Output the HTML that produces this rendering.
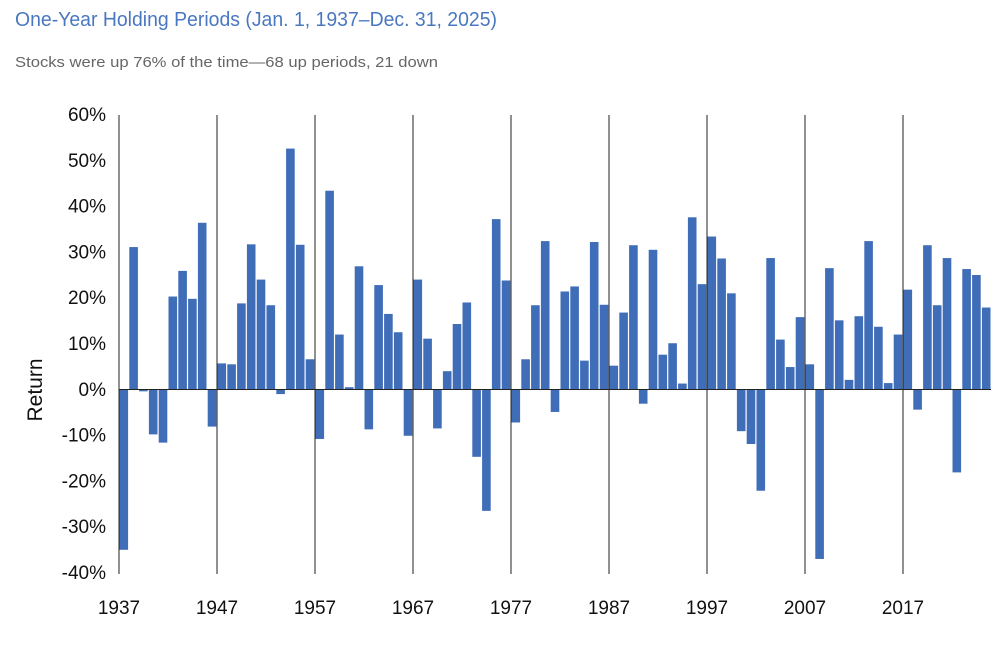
<!DOCTYPE html>
<html><head><meta charset="utf-8"><style>
body{margin:0;background:#fff;font-family:"Liberation Sans",sans-serif;}
</style></head><body>
<svg width="995" height="650" xmlns="http://www.w3.org/2000/svg" font-family="Liberation Sans, sans-serif">
<text x="15" y="26" font-size="20" fill="#4a78c0" textLength="482" lengthAdjust="spacingAndGlyphs">One-Year Holding Periods (Jan. 1, 1937–Dec. 31, 2025)</text>
<text x="15" y="67" font-size="15" fill="#666" textLength="423" lengthAdjust="spacingAndGlyphs">Stocks were up 76% of the time—68 up periods, 21 down</text>
<g font-size="19" fill="#111" text-anchor="end" id="yl"></g>
<text transform="translate(42,390) rotate(-90)" font-size="21" fill="#111" text-anchor="middle">Return</text>
<g id="bars" fill="#3f6db8"></g>
<line x1="119" y1="389.5" x2="991" y2="389.5" stroke="#222" stroke-width="1"/>
<g id="vl" stroke="#222" stroke-width="1"></g>
<g id="xl" font-size="19" fill="#111" text-anchor="middle"></g>
<script>
var v=[-35.0,31.1,-0.4,-9.8,-11.6,20.3,25.9,19.8,36.4,-8.1,5.7,5.5,18.8,31.7,24.0,18.4,-1.0,52.6,31.6,6.6,-10.8,43.4,12.0,0.5,26.9,-8.7,22.8,16.5,12.5,-10.1,24.0,11.1,-8.5,4.0,14.3,19.0,-14.7,-26.5,37.2,23.8,-7.2,6.6,18.4,32.4,-4.9,21.4,22.5,6.3,32.2,18.5,5.2,16.8,31.5,-3.1,30.5,7.6,10.1,1.3,37.6,23.0,33.4,28.6,21.0,-9.1,-11.9,-22.1,28.7,10.9,4.9,15.8,5.5,-37.0,26.5,15.1,2.1,16.0,32.4,13.7,1.4,12.0,21.8,-4.4,31.5,18.4,28.7,-18.1,26.3,25.0,17.9];
var ns="http://www.w3.org/2000/svg",z=389.5,k=4.58,w=9.8,x0=119.5;
function el(t,a,p,txt){var e=document.createElementNS(ns,t);for(var i in a)e.setAttribute(i,a[i]);if(txt)e.textContent=txt;document.getElementById(p).appendChild(e);}
v.forEach(function(d,i){var h=Math.abs(d)*k;el('rect',{x:x0+i*w,y:d>0?z-h:z,width:w-1.2,height:Math.max(h,1)},'bars');});
for(var j=0;j<=10;j++){var p=60-10*j;el('text',{x:106,y:114+j*45.8+7},'yl',p+'%');}
for(var d=0;d<9;d++){var x=119+d*98;el('line',{x1:x,y1:115,x2:x,y2:574},'vl');el('text',{x:x,y:614},'xl',String(1937+10*d));}
</script>
</svg>
</body></html>
